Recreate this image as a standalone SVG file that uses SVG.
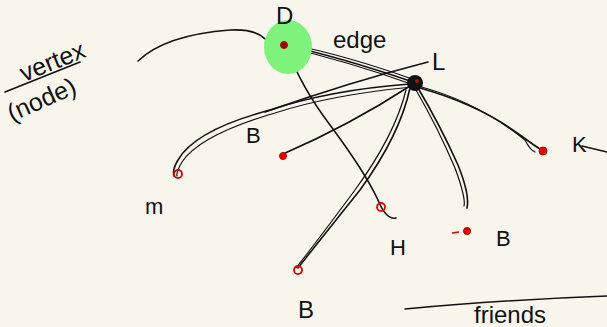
<svg xmlns="http://www.w3.org/2000/svg" width="607" height="327" viewBox="0 0 607 327">
<style>
.ink{fill:none;stroke:#111;stroke-width:1.6;stroke-linecap:round;stroke-linejoin:round}
.thin{fill:none;stroke:#111;stroke-width:1.2;stroke-linecap:round}
.lbl{font-family:"Liberation Sans","DejaVu Sans",sans-serif;fill:#111}
.rn{fill:none;stroke:#e00000;stroke-width:1.8}
.rf{fill:#e00000;stroke:#c00000;stroke-width:1}
</style>
<rect width="607" height="327" fill="#f8f6ec"/>
<g id="labels">
<text class="lbl" font-size="25" transform="translate(24,82) rotate(-22)">vertex</text>
<path class="ink" d="M5,92 L80,62"/>
<text class="lbl" font-size="25" transform="translate(12,122) rotate(-24)">(node)</text>
<text class="lbl" font-size="24" x="333" y="48">edge</text>
<text class="lbl" font-size="24" x="474" y="323">friends</text>
<path class="ink" d="M405,309 Q500,300 607,296"/>
</g>
<g id="connectors">
<path class="ink" d="M138,61 Q165,35 230,30 Q265,28 272,50"/>
<path class="ink" d="M284,45 Q340,57 413,82"/>
<path class="thin" d="M286,47 Q350,62 411,84"/>
<path class="thin" d="M288,44 Q345,55 415,80"/>
<path class="ink" d="M288,50 Q300,85 330,125 Q365,172 378,200 Q386,220 396,218"/>
<path class="ink" d="M265,112 Q350,82 428,62"/>
<path class="ink" d="M410,84 Q330,90 270,110 Q195,130 178,160 Q172,170 174,176"/>
<path class="thin" d="M412,87 Q330,95 275,113 Q200,135 182,162 Q176,172 177,176"/>
<path class="ink" d="M410,86 Q350,125 283,154"/>
<path class="ink" d="M410,88 Q400,135 360,190 Q320,240 298,268"/>
<path class="thin" d="M406,90 Q395,135 355,190 Q318,240 296,268"/>
<path class="ink" d="M418,88 Q440,125 458,165 Q470,195 467,208"/>
<path class="thin" d="M416,90 Q438,128 455,168 Q466,198 464,206"/>
<path class="ink" d="M420,88 Q480,105 520,135 Q535,146 543,151"/>
<path class="thin" d="M418,86 Q478,102 525,140 Q530,150 535,152"/>
</g>
<g id="node-D">
<ellipse cx="288" cy="47" rx="24" ry="27" fill="#7ef27a"/>
<circle cx="284" cy="45" r="3.5" fill="#8a0d0d" stroke="#c00000"/>
<text class="lbl" font-size="24" x="276" y="24">D</text>
</g>
<g id="node-L">
<circle cx="415" cy="83" r="8" fill="#111"/>
<circle cx="417" cy="81" r="2" fill="#b01010"/>
<text class="lbl" font-size="24" x="432" y="70">L</text>
</g>
<g id="node-M">
<circle class="rn" cx="178" cy="174" r="4"/>
<text class="lbl" font-size="22" x="145" y="214">m</text>
</g>
<g id="node-B1">
<circle class="rf" cx="283" cy="156" r="3.5"/>
<text class="lbl" font-size="22" x="246" y="143">B</text>
</g>
<g id="node-H">
<circle class="rn" cx="381" cy="207" r="4"/>
<text class="lbl" font-size="22" x="390" y="255">H</text>
</g>
<g id="node-B2">
<circle class="rf" cx="467" cy="231" r="3.5"/>
<path d="M452,233 L459,232" stroke="#e00000" stroke-width="1.5"/>
<text class="lbl" font-size="22" x="496" y="246">B</text>
</g>
<g id="node-B3">
<circle class="rn" cx="298" cy="270" r="4"/>
<text class="lbl" font-size="24" x="298" y="318">B</text>
</g>
<g id="node-K">
<circle class="rf" cx="543" cy="151" r="4"/>
<text class="lbl" font-size="22" x="572" y="152">K</text>
<path class="ink" d="M582,146 L607,152"/>
</g>
</svg>
